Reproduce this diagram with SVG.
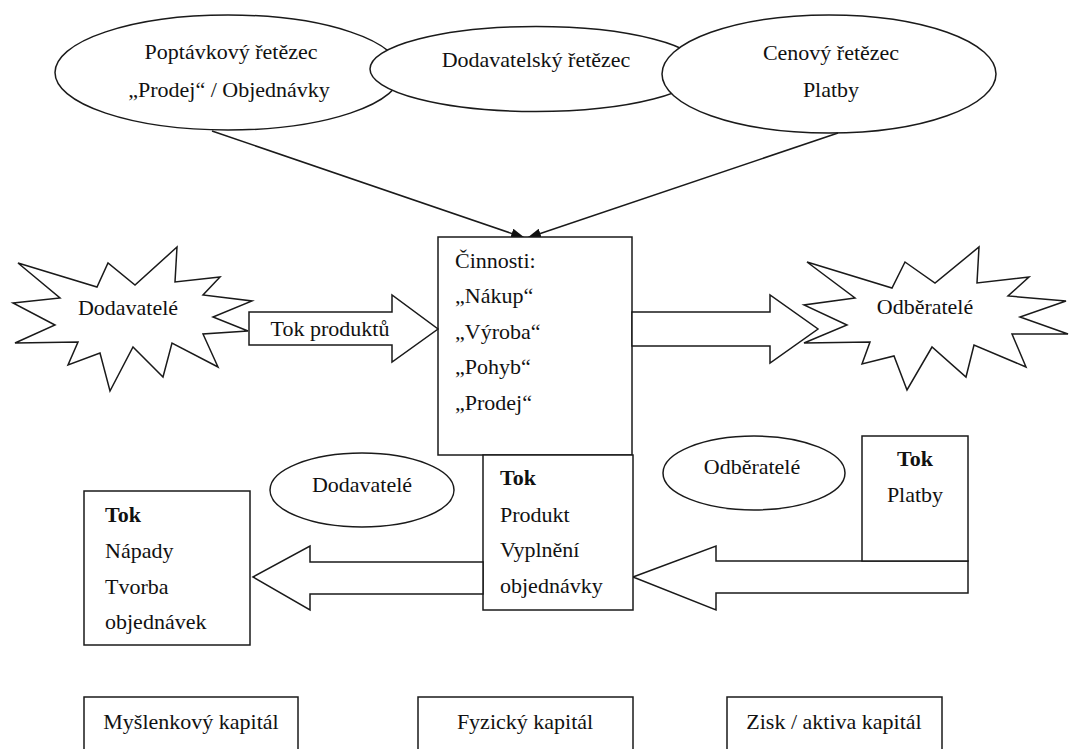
<svg xmlns="http://www.w3.org/2000/svg" width="1072" height="749" viewBox="0 0 1072 749" font-family="'Liberation Serif', 'Times New Roman', Tinos, 'DejaVu Serif', serif">
  <style>
    .shape { fill: #ffffff; stroke: #1a1a1a; stroke-width: 1.5; }
    .conn { fill: none; stroke: #1a1a1a; stroke-width: 1.5; }
    text { font-family: 'Liberation Serif', 'Times New Roman', Tinos, 'DejaVu Serif', serif; font-size: 22px; fill: #111111; }
    .c { text-anchor: middle; }
    .b { font-weight: bold; }
  </style>
  <defs>
    <marker id="head" viewBox="0 0 14 10" refX="14" refY="5" markerWidth="14" markerHeight="10" markerUnits="userSpaceOnUse" orient="auto">
      <path d="M0,0 L14,5 L0,10 Z" fill="#111111"/>
    </marker>
  </defs>
  <rect width="1072" height="749" fill="#ffffff"/>

  <!-- chains along the top -->
  <g id="demand-chain">
    <ellipse class="shape" cx="228" cy="72.5" rx="173" ry="57.5"/>
    <text class="c" x="231" y="59">Poptávkový řetězec</text>
    <text class="c" x="229" y="97">„Prodej“ / Objednávky</text>
  </g>
  <g id="supply-chain">
    <ellipse class="shape" cx="536" cy="69" rx="166" ry="42.5"/>
    <text class="c" x="536" y="67">Dodavatelský řetězec</text>
  </g>
  <g id="price-chain">
    <ellipse class="shape" cx="829" cy="74" rx="167" ry="59"/>
    <text class="c" x="831" y="60">Cenový řetězec</text>
    <text class="c" x="831" y="97">Platby</text>
  </g>

  <!-- connectors -->
  <g id="connectors">
    <line class="conn" x1="212" y1="131" x2="525" y2="238" marker-end="url(#head)"/>
    <line class="conn" x1="838" y1="133" x2="527" y2="238" marker-end="url(#head)"/>
  </g>

  <!-- partners -->
  <g id="suppliers-star">
    <polygon class="shape" points="18,263 97,287 108,263 135,285 177,247 175,282 220,277 203,295 252,301 213,317 248,331 203,334 218,367 172,343 163,377 133,347 110,391 100,353 68,365 78,342 15,343 55,325 13,303 60,298"/>
    <text class="c" x="128" y="315">Dodavatelé</text>
  </g>
  <g id="customers-star">
    <polygon class="shape" points="807,262 892,288 905,262 935,283 979,247 977,283 1029,277 1008,296 1066,301 1020,317 1068,334 1012,334 1026,367 974,345 966,377 932,347 907,390 894,356 862,364 870,342 804,343 847,325 804,305 855,298"/>
    <text class="c" x="925" y="314">Odběratelé</text>
  </g>

  <!-- activities -->
  <g id="activities">
    <rect class="shape" x="438" y="237" width="194" height="218"/>
    <text x="455" y="268">Činnosti:</text>
    <text x="455" y="303">„Nákup“</text>
    <text x="455" y="339">„Výroba“</text>
    <text x="455" y="374">„Pohyb“</text>
    <text x="455" y="410">„Prodej“</text>
  </g>

  <!-- product flow arrows -->
  <g id="product-flow-in">
    <polygon class="shape" points="249,312 392,312 392,295 438,329 392,362 392,345 249,345"/>
    <text class="c" x="330" y="336">Tok produktů</text>
  </g>
  <g id="product-flow-out">
    <polygon class="shape" points="632,312 770,312 770,295 818,329 770,363 770,346 632,346"/>
  </g>

  <!-- lower flows -->
  <g id="payment-arrow">
    <polygon class="shape" points="633,577 716,546 716,561 968,561 968,593 716,593 716,610"/>
  </g>
  <g id="payment-box">
    <rect class="shape" x="862" y="436" width="106" height="125"/>
    <text class="c b" x="915" y="466">Tok</text>
    <text class="c" x="915" y="502">Platby</text>
  </g>
  <g id="customers-oval">
    <ellipse class="shape" cx="754" cy="473" rx="91" ry="37"/>
    <text class="c" x="752" y="474">Odběratelé</text>
  </g>
  <g id="product-box">
    <rect class="shape" x="483" y="455" width="150" height="155"/>
    <text class="b" x="500" y="485">Tok</text>
    <text x="500" y="522">Produkt</text>
    <text x="500" y="557">Vyplnění</text>
    <text x="500" y="593">objednávky</text>
  </g>
  <g id="ideas-arrow">
    <polygon class="shape" points="253,577 310,546 310,562 483,562 483,594 310,594 310,610"/>
  </g>
  <g id="suppliers-oval">
    <ellipse class="shape" cx="362" cy="490" rx="92" ry="37"/>
    <text class="c" x="362" y="492">Dodavatelé</text>
  </g>
  <g id="ideas-box">
    <rect class="shape" x="84" y="491" width="166" height="154"/>
    <text class="b" x="105" y="522">Tok</text>
    <text x="105" y="558">Nápady</text>
    <text x="105" y="594">Tvorba</text>
    <text x="105" y="629">objednávek</text>
  </g>

  <!-- capital boxes along the bottom -->
  <g id="idea-capital">
    <rect class="shape" x="84" y="697" width="214" height="70"/>
    <text class="c" x="191" y="729">Myšlenkový kapitál</text>
  </g>
  <g id="physical-capital">
    <rect class="shape" x="418" y="697" width="215" height="70"/>
    <text class="c" x="525" y="729">Fyzický kapitál</text>
  </g>
  <g id="profit-capital">
    <rect class="shape" x="727" y="697" width="215" height="70"/>
    <text class="c" x="834" y="729">Zisk / aktiva kapitál</text>
  </g>
</svg>
